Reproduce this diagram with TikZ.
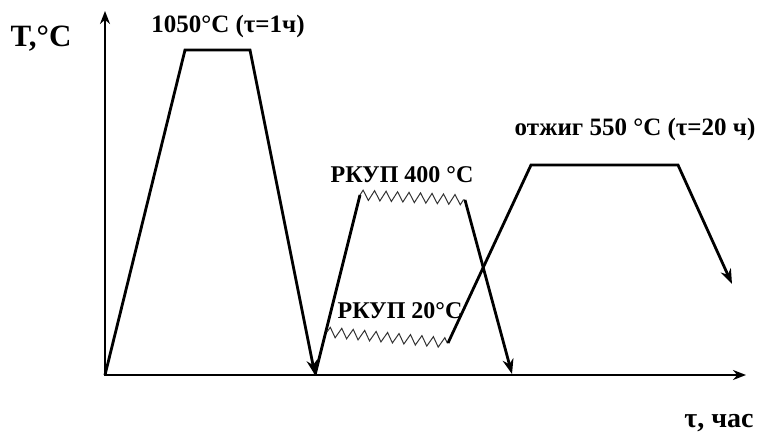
\documentclass[tikz,border=0pt]{standalone}
\usepackage{fontspec}
\setmainfont{Liberation Serif}
\usetikzlibrary{arrows.meta,decorations.pathmorphing}

\tikzset{
  axis/.style={line width=2.6pt,-{Stealth[length=13pt,width=10pt]}},
  curve/.style={line width=2.8pt,line join=miter},
  curvearr/.style={curve,-{Stealth[length=15pt,width=11pt]}},
  deform/.style={line width=1pt,black!80,decorate,
    decoration={zigzag,segment length=11.5pt,amplitude=5pt}},
  lbl/.style={font=\bfseries\fontsize{24}{28}\selectfont,inner sep=0pt},
  biglbl/.style={font=\bfseries\fontsize{25}{29}\selectfont,inner sep=0pt}
}

\begin{document}
\begin{tikzpicture}[x=1pt,y=-1pt]
\useasboundingbox (0,0) rectangle (760,436);
% axes
\coordinate (O) at (105,375);
\draw[axis] (O) -- (105,11);
\draw[axis] (103.7,375) -- (746,375);
\node[lbl,font=\bfseries\fontsize{31}{34}\selectfont] (Tlbl) at (41,39) {T,°C};
\node[lbl,font=\bfseries\fontsize{28}{32}\selectfont] (taulbl) at (719,423) {τ, час};

% 1050 C
\draw[curvearr] (O) -- (185,50) -- (250,50) -- (315,375);
\node[biglbl] (homog) at (228,26) {1050°C (τ=1ч)};

% ECAP 400 C
\coordinate (hot1) at (360,195);
\coordinate (hot2) at (465,200);
\draw[curve] (315,375) -- (hot1);
\draw[deform] (hot1) -- (hot2);
\draw[curvearr] (hot2) -- (512,374);
\node[lbl] (ecaphot) at (402,175) {РКУП 400 °C};

% ECAP 20 C
\coordinate (cold1) at (327,332);
\coordinate (cold2) at (448,343);
\draw[deform] (cold1) -- (cold2);
\node[lbl] (ecapcold) at (400,311) {РКУП 20°C};

% annealing
\draw[curvearr] (cold2) -- (531,165) -- (678,165) -- (732,284);
\node[biglbl] (anneal) at (635,129) {отжиг 550 °C (τ=20 ч)};
\end{tikzpicture}
\end{document}
